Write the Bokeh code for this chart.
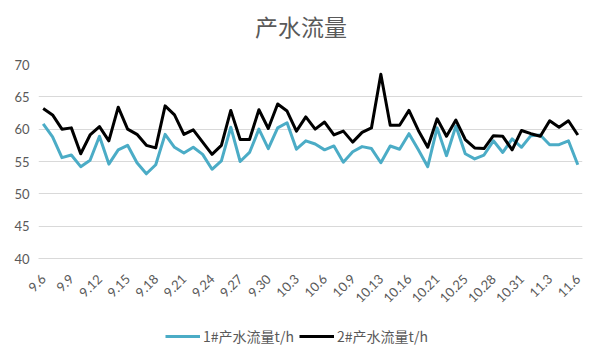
import math
from bokeh.plotting import figure
from bokeh.layouts import column
from bokeh.models import Range1d, FixedTicker, Legend, LegendItem, Label
from bokeh.embed import file_html
from bokeh.resources import INLINE

dates = ["9.6", "9.7", "9.8", "9.9", "9.10", "9.11", "9.12", "9.13", "9.14", "9.15",
         "9.16", "9.17", "9.18", "9.19", "9.20", "9.21", "9.22", "9.23", "9.24", "9.25",
         "9.26", "9.27", "9.28", "9.29", "9.30", "10.1", "10.2", "10.3", "10.4", "10.5",
         "10.6", "10.7", "10.8", "10.9", "10.10", "10.11", "10.13", "10.14", "10.15", "10.16",
         "10.17", "10.19", "10.21", "10.22", "10.24", "10.25", "10.26", "10.27", "10.28", "10.29",
         "10.30", "10.31", "11.1", "11.2", "11.3", "11.4", "11.5", "11.6"]

flow1 = [60.8, 58.8, 55.6, 56.0, 54.2, 55.2, 58.9, 54.6, 56.8, 57.5,
         54.8, 53.1, 54.5, 59.2, 57.2, 56.3, 57.2, 56.1, 53.8, 55.1,
         60.3, 55.0, 56.4, 60.0, 57.0, 60.2, 61.0, 56.9, 58.2, 57.7,
         56.8, 57.4, 54.9, 56.5, 57.3, 57.0, 54.8, 57.4, 56.9, 59.3,
         56.8, 54.2, 60.2, 55.9, 60.5, 56.2, 55.4, 56.0, 58.2, 56.4,
         58.5, 57.2, 59.0, 59.1, 57.6, 57.6, 58.2, 54.5]

flow2 = [63.2, 62.2, 60.0, 60.2, 56.2, 59.1, 60.4, 58.2, 63.4, 60.0,
         59.2, 57.5, 57.1, 63.6, 62.2, 59.2, 59.9, 58.0, 56.1, 57.5,
         62.9, 58.4, 58.4, 63.0, 60.1, 63.9, 62.8, 59.7, 61.9, 60.0,
         61.1, 59.1, 59.7, 58.0, 59.5, 60.2, 68.5, 60.6, 60.6, 62.9,
         59.8, 57.2, 61.6, 58.9, 61.4, 58.4, 57.1, 57.0, 59.0, 58.9,
         56.8, 59.8, 59.3, 58.9, 61.3, 60.3, 61.3, 59.1]

y_ticks = [40, 45, 50, 55, 60, 65, 70]
name1 = "1#产水流量t/h"
name2 = "2#产水流量t/h"
title_text = "产水流量"

x = list(range(len(dates)))
label_idx = list(range(0, len(dates), 3))
xr = (-0.5, len(dates) - 0.5)

TXT = "#595959"
GRID = "#D9D9D9"
BLUE = "#4BACC6"
BLACK = "#000000"
CJK = "Noto Sans CJK SC"

# title strip
tt = figure(width=586, height=50, output_backend="svg", toolbar_location=None,
            x_axis_type=None, y_axis_type=None, min_border=0,
            x_range=Range1d(*xr), y_range=Range1d(0, 1))
tt.outline_line_color = None
tt.xgrid.grid_line_color = None
tt.ygrid.grid_line_color = None
tt.add_layout(Label(x=(len(dates) - 1) / 2 - 1, y=0.5, text=title_text,
                    text_align="center", text_baseline="middle",
                    text_font=CJK, text_font_size="23px", text_color=TXT))

p = figure(width=586, height=260, output_backend="svg", toolbar_location=None,
           x_range=Range1d(*xr), y_range=Range1d(y_ticks[0], y_ticks[-1]),
           min_border_left=38, min_border_right=4, min_border_top=14, min_border_bottom=48)

p.outline_line_color = None

p.xaxis.ticker = FixedTicker(ticks=label_idx)
p.xaxis.major_label_overrides = {i: dates[i] for i in label_idx}
p.xaxis.major_label_orientation = math.pi / 4
p.xaxis.major_tick_line_color = None
p.xaxis.minor_tick_line_color = None
p.xaxis.axis_line_color = GRID
p.xaxis.major_label_text_font = "Lato"
p.xaxis.major_label_text_font_size = "13px"
p.xaxis.major_label_text_color = TXT
p.xaxis.major_label_standoff = 12

p.yaxis.ticker = FixedTicker(ticks=y_ticks)
p.yaxis.major_tick_line_color = None
p.yaxis.minor_tick_line_color = None
p.yaxis.major_tick_out = 0
p.yaxis.minor_tick_out = 0
p.yaxis.axis_line_color = None
p.yaxis.major_label_text_font = "Lato"
p.yaxis.major_label_text_font_size = "13px"
p.yaxis.major_label_text_color = TXT
p.yaxis.major_label_standoff = 9

p.xgrid.grid_line_color = None
p.ygrid.grid_line_color = GRID
p.ygrid.ticker = FixedTicker(ticks=y_ticks)

p.line(x, flow1, line_color=BLUE, line_width=3, line_join="round")
p.line(x, flow2, line_color=BLACK, line_width=3, line_join="round")

# legend strip below the chart (series drawn out of view; only legend shows)
lg = figure(width=586, height=36, output_backend="svg", toolbar_location=None,
            x_axis_type=None, y_axis_type=None, min_border=0,
            x_range=Range1d(*xr), y_range=Range1d(0, 1))
lg.outline_line_color = None
lg.xgrid.grid_line_color = None
lg.ygrid.grid_line_color = None
k1 = lg.line(x, flow1, line_color=BLUE, line_width=3)
k2 = lg.line(x, flow2, line_color=BLACK, line_width=3)
legend = Legend(items=[LegendItem(label=name1, renderers=[k1]),
                       LegendItem(label=name2, renderers=[k2])],
                orientation="horizontal", location=(127, 0),
                glyph_width=35, glyph_height=20, label_standoff=3, spacing=5,
                padding=0, margin=0, border_line_color=None, background_fill_alpha=0,
                label_text_font=CJK, label_text_font_size="14px", label_text_color=TXT)
lg.add_layout(legend, "center")

layout = column(tt, p, lg, spacing=0)
open("out.html", "w").write(file_html(layout, INLINE))
